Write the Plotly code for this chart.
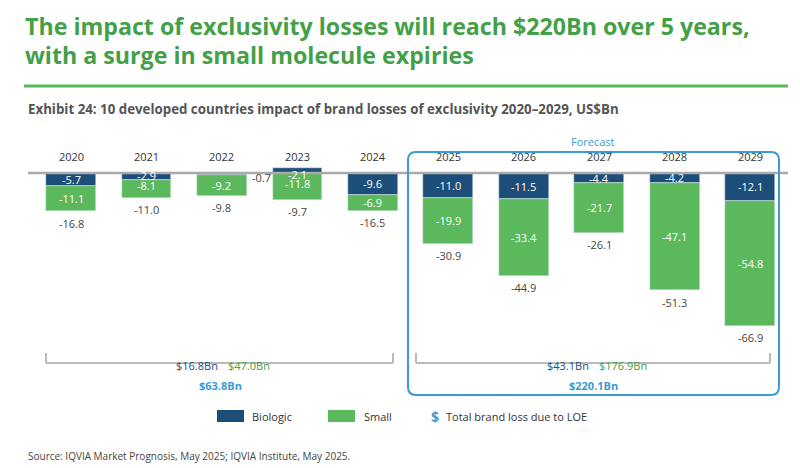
import plotly.graph_objects as go

years = ["2020","2021","2022","2023","2024","2025","2026","2027","2028","2029"]
biologic = [-5.7,-2.9,-0.7,2.1,-9.6,-11.0,-11.5,-4.4,-4.2,-12.1]
biologic_lbl = ["-5.7","-2.9","-0.7","-2.1","-9.6","-11.0","-11.5","-4.4","-4.2","-12.1"]
small = [-11.1,-8.1,-9.2,-11.8,-6.9,-19.9,-33.4,-21.7,-47.1,-54.8]
total = [-16.8,-11.0,-9.8,-9.7,-16.5,-30.9,-44.9,-26.1,-51.3,-66.9]

BLUE="#1d4e79"; GREEN="#5cb85c"; LBLUE="#3a9bd5"; TGREEN="#43a047"
W,H=800,468
L,R,T,B=20,20,140,83
pw=W-L-R; ph=H-T-B
def px(x): return (x-L)/pw
def py(y): return (H-B-y)/ph

x=list(range(10))
fig=go.Figure()
fig.add_bar(x=x,y=biologic,marker_color=BLUE,width=0.66,name="Biologic",showlegend=False)
fig.add_bar(x=x,y=small,marker_color=GREEN,width=0.66,name="Small",showlegend=False)
fig.update_layout(barmode="relative",width=W,height=H,margin=dict(l=L,r=R,t=T,b=B),
    plot_bgcolor="white",paper_bgcolor="white",font=dict(family="Open Sans",color="#333"),
    xaxis=dict(range=[-0.57,9.5],visible=False),
    yaxis=dict(range=[-96.1,10.9],visible=False),bargap=0)
ann=[]
for i in x:
    ann.append(dict(x=i,y=3,text=years[i],showarrow=False,yanchor="bottom",font=dict(size=11,color="#333")))
    b=biologic[i]; s=small[i]
    if i==2:
        ann.append(dict(x=i+0.37,y=-1.8,text=biologic_lbl[i],showarrow=False,xanchor="left",font=dict(size=11,color="#444")))
    elif i==3:
        ann.append(dict(x=i,y=-0.8,text=biologic_lbl[i],showarrow=False,font=dict(size=11,color="white")))
    else:
        yb=b/2 if abs(b)>4 else b+0.2
        if i==1: yb=-1.3
        ann.append(dict(x=i,y=yb,text=biologic_lbl[i],showarrow=False,font=dict(size=11,color="white")))
    sb=min(b,0)
    ys=sb+s/2
    if i==1: ys=-5.5
    if i==3: ys=-4.8
    ann.append(dict(x=i,y=ys,text=f"{s:.1f}",showarrow=False,font=dict(size=11,color="white")))
    bottom=min(b,0)+s
    ann.append(dict(x=i,y=bottom-1,text=f"{total[i]:.1f}",showarrow=False,yanchor="top",font=dict(size=11,color="#444")))
def pa(xp,yp,text,size=11,color="#333",xanchor="center",bold=False):
    ann.append(dict(xref="paper",yref="paper",x=px(xp),y=py(yp),text=f"<b>{text}</b>" if bold else text,
        showarrow=False,xanchor=xanchor,yanchor="middle",font=dict(size=size,color=color)))
pa(585,134,"Forecast",color=LBLUE)
pa(212,357,"$16.8Bn",color=BLUE,xanchor="right"); pa(218,357,"$47.0Bn",color=TGREEN,xanchor="left")
pa(212,377,"$63.8Bn",color=LBLUE,bold=True)
pa(583,357,"$43.1Bn",color=BLUE,xanchor="right"); pa(589,357,"$176.9Bn",color=TGREEN,xanchor="left")
pa(585,377,"$220.1Bn",color=LBLUE,bold=True)
pa(242,408,"Biologic",xanchor="left"); pa(354,408,"Small",xanchor="left")
pa(421,408,"<b>$</b>",color=LBLUE,size=14,xanchor="left"); pa(436,408,"Total brand loss due to LOE",xanchor="left")
ann.append(dict(xref="paper",yref="paper",x=px(18),y=py(448),yanchor="middle",text="Source: IQVIA Market Prognosis, May 2025; IQVIA Institute, May 2025.",
    showarrow=False,xanchor="left",font=dict(size=10,color="#444")))
for yy,t in [(18,"The impact of exclusivity losses will reach $220Bn over 5 years,"),(47,"with a surge in small molecule expiries")]:
    ann.append(dict(xref="paper",yref="paper",x=px(15),y=py(yy),yanchor="middle",xanchor="left",
        text=f"<b>{t}</b>",showarrow=False,font=dict(size=23.2,color=TGREEN)))
ann.append(dict(xref="paper",yref="paper",x=px(18),y=py(101),xanchor="left",yanchor="middle",
    text="<b>Exhibit 24: 10 developed countries impact of brand losses of exclusivity 2020–2029, US$Bn</b>",
    showarrow=False,font=dict(size=13.3,color="#555")))
fig.update_layout(annotations=ann)
shapes=[]
def line(x0,y0,x1,y1,color,w=2):
    shapes.append(dict(type="line",xref="paper",yref="paper",x0=px(x0),y0=py(y0),x1=px(x1),y1=py(y1),line=dict(color=color,width=w)))
line(16,78,780,78,"#5cb85c",3)
shapes.append(dict(type="line",xref="paper",yref="y",x0=0,x1=1,y0=0,y1=0,line=dict(color="#aaa",width=2.5)))
line(38,345,38,355,"#bbb",2); line(385,345,385,355,"#bbb",2); line(38,355,385,355,"#bbb",2)
line(408,345,408,355,"#bbb",2); line(762,345,762,355,"#bbb",2); line(408,355,762,355,"#bbb",2)
shapes.append(dict(type="path",xref="paper",yref="paper",
    path=f"M {px(408)},{py(144)} L {px(763)},{py(144)} Q {px(771)},{py(144)} {px(771)},{py(152)} L {px(771)},{py(379)} Q {px(771)},{py(387)} {px(763)},{py(387)} L {px(408)},{py(387)} Q {px(400)},{py(387)} {px(400)},{py(379)} L {px(400)},{py(152)} Q {px(400)},{py(144)} {px(408)},{py(144)} Z",
    line=dict(color=LBLUE,width=2)))
for x0,c in [(209,BLUE),(320,GREEN)]:
    shapes.append(dict(type="rect",xref="paper",yref="paper",x0=px(x0),x1=px(x0+27),y0=py(402),y1=py(414),fillcolor=c,line=dict(width=0)))
fig.update_layout(shapes=shapes)
fig.write_html("out.html")
